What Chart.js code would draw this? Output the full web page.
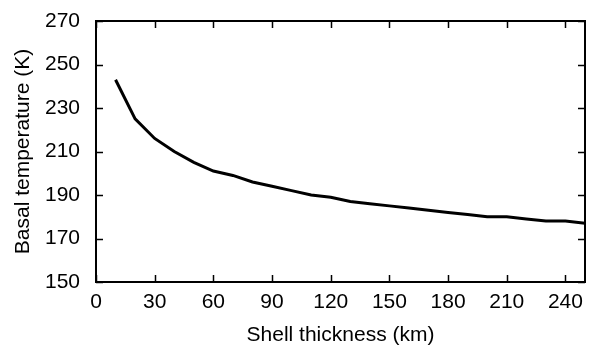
<!DOCTYPE html>
<html>
<head>
<meta charset="utf-8">
<script src="https://cdn.jsdelivr.net/npm/chart.js@4"></script>
<style>
  html, body { margin: 0; padding: 0; background: #fff; }
  #wrap { width: 600px; height: 360px; }
</style>
</head>
<body>
<div id="wrap"><canvas id="myChart"></canvas></div>
<script>
const thickness = [10, 20, 30, 40, 50, 60, 70, 80, 90, 100, 110, 120, 130, 140, 150, 160, 170, 180, 190, 200, 210, 220, 230, 240, 250];
const basalTemp = [243, 225, 216, 210, 205, 201, 199, 196, 194, 192, 190, 189, 187, 186, 185, 184, 183, 182, 181, 180, 180, 179, 178, 178, 177];
const xTicks = [0, 30, 60, 90, 120, 150, 180, 210, 240];
const yLabels = [150, 170, 190, 210, 230, 250, 270];

const FONT = "'Liberation Sans', Arial, Helvetica, sans-serif";

// frame + inward ticks on all four sides
const frameTicks = {
  id: 'frameTicks',
  afterDraw(chart) {
    const { ctx, chartArea: a, scales: { x, y } } = chart;
    ctx.save();
    ctx.strokeStyle = '#000';
    ctx.lineWidth = 2;
    ctx.strokeRect(a.left, a.top, a.right - a.left, a.bottom - a.top);
    ctx.lineWidth = 1.5;
    const len = 7;
    ctx.beginPath();
    x.ticks.forEach(t => {
      const px = Math.round(x.getPixelForValue(t.value)) + 0.5;
      ctx.moveTo(px, a.bottom); ctx.lineTo(px, a.bottom - len);
      ctx.moveTo(px, a.top); ctx.lineTo(px, a.top + len);
    });
    y.ticks.forEach(t => {
      const py = Math.round(y.getPixelForValue(t.value)) + 0.5;
      ctx.moveTo(a.left, py); ctx.lineTo(a.left + len, py);
      ctx.moveTo(a.right, py); ctx.lineTo(a.right - len, py);
    });
    ctx.stroke();
    ctx.restore();
  }
};

const ctx = document.getElementById('myChart').getContext('2d');
new Chart(ctx, {
  type: 'line',
  data: {
    datasets: [{
      data: thickness.map((t, i) => ({ x: t, y: basalTemp[i] })),
      borderColor: '#000',
      borderWidth: 3,
      pointRadius: 0,
      tension: 0,
      fill: false
    }]
  },
  options: {
    responsive: true,
    maintainAspectRatio: false,
    animation: false,
    layout: { padding: { top: 21, right: 15, left: 0, bottom: 0 } },
    plugins: { legend: { display: false }, tooltip: { enabled: false } },
    scales: {
      x: {
        type: 'linear',
        min: 0, max: 250,
        afterFit: s => { s.height = 78; },
        afterBuildTicks: s => { s.ticks = xTicks.map(v => ({ value: v })); },
        grid: { display: false },
        border: { display: false },
        ticks: { color: '#000', padding: 0, maxRotation: 0, font: { family: FONT, size: 21 } },
        title: { display: true, text: 'Shell thickness (km)', color: '#000', font: { family: FONT, size: 21 }, padding: { top: 12, bottom: 12 } }
      },
      y: {
        min: 150, max: 270,
        afterFit: s => { s.width = 96; },
        ticks: {
          stepSize: 10,
          color: '#000',
          padding: 8,
          font: { family: FONT, size: 21 },
          callback: v => yLabels.includes(v) ? v : ''
        },
        grid: { display: false },
        border: { display: false },
        title: { display: true, text: 'Basal temperature (K)', color: '#000', font: { family: FONT, size: 21 }, padding: { top: 11, bottom: 11 } }
      }
    }
  },
  plugins: [frameTicks]
});
</script>
</body>
</html>
